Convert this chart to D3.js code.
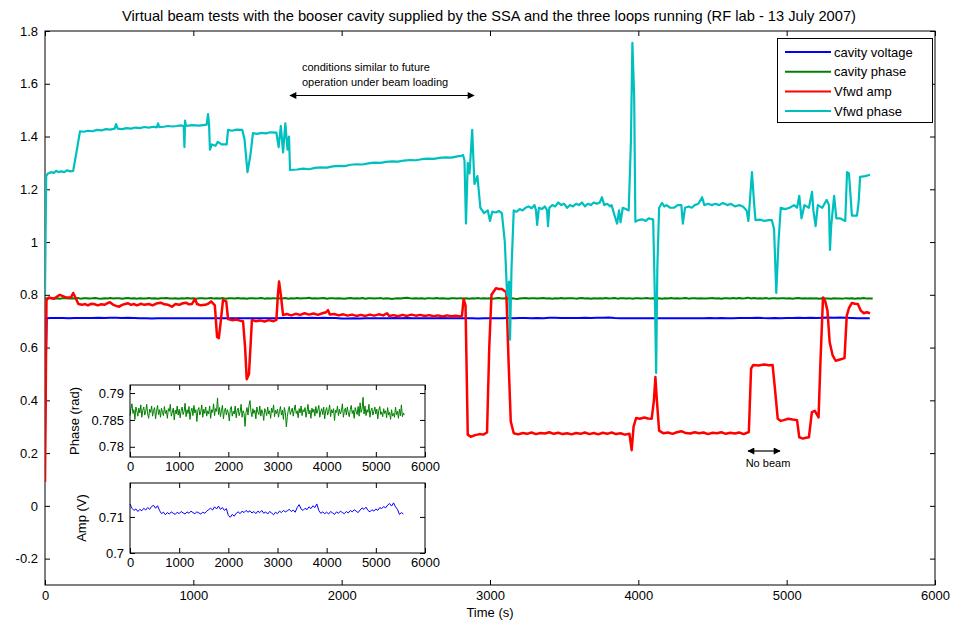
<!DOCTYPE html>
<html>
<head>
<meta charset="utf-8">
<script src="https://cdn.jsdelivr.net/npm/d3@7"></script>
<style>
  body { margin: 0; background: #fff; }
  text { font-family: "Liberation Sans", Arial, sans-serif; fill: #000; }
  .narrow { font-family: "Liberation Sans Narrow", "Arial Narrow", "Liberation Sans", sans-serif; }
</style>
</head>
<body>
<div id="chart"></div>
<script>
const width = 956;
const height = 623;

const titleText = "Virtual beam tests with the booser cavity supplied by the SSA and the three loops running (RF lab - 13 July 2007)";
const seriesNames = ["cavity voltage", "cavity phase", "Vfwd amp", "Vfwd phase"];
const seriesColors = ["#0000ff", "#008000", "#ff0000", "#00bfbf"];
const mainYTicks = [-0.2, 0, 0.2, 0.4, 0.6, 0.8, 1, 1.2, 1.4, 1.6, 1.8];
const timeTicks = [0, 1000, 2000, 3000, 4000, 5000, 6000];
const phaseTicks = [0.78, 0.785, 0.79];
const ampTicks = [0.7, 0.71];

// sample spacing (s) of the two cavity loggers
const phaseStep = 20;
const ampStep = 40;

// cavity phase (rad), one value every 20 s
const cavityPhase = [
  0.7858, 0.7871, 0.7880, 0.7862, 0.7869, 0.7851, 0.7874, 0.7866, 0.7857, 0.7872,
  0.7863, 0.7878, 0.7855, 0.7868, 0.7874, 0.7859, 0.7866, 0.7879, 0.7861, 0.7853,
  0.7870, 0.7864, 0.7876, 0.7857, 0.7868, 0.7873, 0.7852, 0.7866, 0.7877, 0.7860,
  0.7869, 0.7855, 0.7872, 0.7864, 0.7858, 0.7875, 0.7862, 0.7868, 0.7853, 0.7871,
  0.7866, 0.7879, 0.7857, 0.7864, 0.7872, 0.7850, 0.7868, 0.7861, 0.7876, 0.7859,
  0.7870, 0.7854, 0.7867, 0.7874, 0.7860, 0.7866, 0.7881, 0.7856, 0.7869, 0.7862,
  0.7875, 0.7851, 0.7866, 0.7872, 0.7858, 0.7877, 0.7863, 0.7869, 0.7847, 0.7868,
  0.7873, 0.7859, 0.7866, 0.7878, 0.7855, 0.7870, 0.7862, 0.7874, 0.7857, 0.7867,
  0.7861, 0.7876, 0.7853, 0.7869, 0.7864, 0.7880, 0.7858, 0.7871, 0.7866, 0.7891,
  0.7860, 0.7873, 0.7856, 0.7868, 0.7877, 0.7852, 0.7866, 0.7872, 0.7859, 0.7869,
  0.7863, 0.7848, 0.7870, 0.7875, 0.7857, 0.7866, 0.7861, 0.7876, 0.7854, 0.7868,
  0.7872, 0.7858, 0.7865, 0.7879, 0.7855, 0.7867, 0.7862, 0.7838, 0.7864, 0.7873,
  0.7859, 0.7877, 0.7886, 0.7866, 0.7856, 0.7871, 0.7862, 0.7868, 0.7852, 0.7874,
  0.7865, 0.7860, 0.7876, 0.7857, 0.7869, 0.7863, 0.7849, 0.7871, 0.7866, 0.7858,
  0.7874, 0.7861, 0.7867, 0.7853, 0.7872, 0.7864, 0.7878, 0.7856, 0.7868, 0.7862,
  0.7870, 0.7855, 0.7866, 0.7875, 0.7859, 0.7868, 0.7851, 0.7873, 0.7864, 0.7837,
  0.7856, 0.7869, 0.7875, 0.7860, 0.7866, 0.7872, 0.7857, 0.7868, 0.7878, 0.7862,
  0.7867, 0.7854, 0.7871, 0.7863, 0.7876, 0.7858, 0.7869, 0.7865, 0.7873, 0.7855,
  0.7866, 0.7879, 0.7861, 0.7868, 0.7853, 0.7872, 0.7864, 0.7870, 0.7857, 0.7875,
  0.7862, 0.7868, 0.7877, 0.7855, 0.7866, 0.7871, 0.7860, 0.7874, 0.7852, 0.7867,
  0.7873, 0.7859, 0.7866, 0.7878, 0.7856, 0.7869, 0.7863, 0.7871, 0.7849, 0.7868,
  0.7864, 0.7876, 0.7858, 0.7870, 0.7861, 0.7867, 0.7880, 0.7855, 0.7866, 0.7872,
  0.7859, 0.7874, 0.7863, 0.7856, 0.7869, 0.7877, 0.7862, 0.7868, 0.7853, 0.7873,
  0.7866, 0.7860, 0.7875, 0.7857, 0.7882, 0.7864, 0.7870, 0.7892, 0.7861, 0.7876,
  0.7858, 0.7869, 0.7864, 0.7879, 0.7855, 0.7867, 0.7872, 0.7859, 0.7866, 0.7874,
  0.7861, 0.7870, 0.7852, 0.7868, 0.7875, 0.7860, 0.7865, 0.7856, 0.7871, 0.7862,
  0.7867, 0.7854, 0.7873, 0.7859, 0.7864, 0.7851, 0.7869, 0.7857, 0.7862, 0.7855,
  0.7874, 0.7860, 0.7866, 0.7853, 0.7870, 0.7858, 0.7878, 0.7856, 0.7863, 0.7859
];

// cavity voltage amplitude (V), one value every 40 s
const cavityAmp = [
  0.7136, 0.7124, 0.7118, 0.7122, 0.7115, 0.7121, 0.7117, 0.7124, 0.7119, 0.7126,
  0.7121, 0.7129, 0.7132, 0.7124, 0.7131, 0.7118, 0.7109, 0.7113, 0.7106, 0.7112,
  0.7108, 0.7114, 0.7110, 0.7107, 0.7113, 0.7109, 0.7115, 0.7111, 0.7108, 0.7114,
  0.7110, 0.7116, 0.7112, 0.7109, 0.7114, 0.7111, 0.7108, 0.7113, 0.7110, 0.7116,
  0.7120, 0.7124, 0.7119, 0.7128, 0.7122, 0.7130, 0.7121, 0.7126, 0.7118, 0.7123,
  0.7104, 0.7099, 0.7107, 0.7102, 0.7110, 0.7114, 0.7109, 0.7116, 0.7112, 0.7118,
  0.7113, 0.7117, 0.7111, 0.7115, 0.7109, 0.7116, 0.7112, 0.7118, 0.7110, 0.7114,
  0.7108, 0.7115, 0.7111, 0.7106, 0.7113, 0.7109, 0.7116, 0.7112, 0.7118, 0.7114,
  0.7117, 0.7121, 0.7115, 0.7119, 0.7113, 0.7126, 0.7134, 0.7122, 0.7118, 0.7124,
  0.7120, 0.7128, 0.7123, 0.7131, 0.7126, 0.7136, 0.7118, 0.7110, 0.7114, 0.7109,
  0.7113, 0.7108, 0.7115, 0.7111, 0.7107, 0.7114, 0.7110, 0.7116, 0.7112, 0.7109,
  0.7115, 0.7111, 0.7118, 0.7114, 0.7120, 0.7116, 0.7112, 0.7119, 0.7125, 0.7121,
  0.7127, 0.7118, 0.7114, 0.7120, 0.7116, 0.7122, 0.7118, 0.7126, 0.7123, 0.7129,
  0.7125, 0.7133, 0.7137, 0.7130, 0.7139, 0.7128, 0.7121, 0.7107, 0.7112, 0.7108
];

// switch-on transient of the cavity voltage, [time s, V]
const voltStart = [[0, 0.25], [6, 0.56], [12, 0.711]];

// Vfwd amplitude, [time s, value]
const vfwdAmp = [
  [0,0.09],[10,0.78],[25,0.79],[60,0.785],[100,0.80],[140,0.79],[175,0.79],[190,0.807],[205,0.79],
  [225,0.765],[250,0.762],[270,0.765],[290,0.76],[310,0.766],[330,0.765],[355,0.76],[380,0.764],
  [400,0.762],[420,0.768],[438,0.772],[460,0.762],[480,0.758],[500,0.755],[520,0.762],[540,0.765],
  [560,0.768],[580,0.762],[600,0.765],[620,0.76],[645,0.766],[670,0.762],[700,0.765],[725,0.76],
  [750,0.767],[780,0.77],[805,0.764],[830,0.762],[856,0.755],[880,0.765],[905,0.762],[930,0.768],
  [950,0.77],[970,0.764],[990,0.765],[1011,0.784],[1025,0.765],[1050,0.76],[1080,0.762],
  [1100,0.766],[1120,0.775],[1145,0.76],[1160,0.64],[1172,0.636],[1185,0.70],[1200,0.78],
  [1222,0.775],[1234,0.708],[1260,0.704],[1290,0.706],[1315,0.702],[1335,0.70],[1349,0.60],
  [1360,0.48],[1375,0.50],[1385,0.60],[1395,0.705],[1420,0.70],[1450,0.703],[1480,0.699],
  [1510,0.704],[1540,0.70],[1560,0.705],[1570,0.80],[1578,0.85],[1590,0.80],
  [1605,0.723],[1630,0.727],[1660,0.722],[1690,0.728],[1720,0.724],[1750,0.73],[1780,0.725],
  [1810,0.729],[1840,0.724],[1870,0.73],[1895,0.734],[1908,0.742],[1920,0.725],[1950,0.727],
  [1980,0.722],[2010,0.726],[2040,0.721],[2070,0.725],[2100,0.72],[2130,0.724],[2160,0.72],
  [2190,0.725],[2220,0.721],[2250,0.726],[2280,0.722],[2306,0.73],[2320,0.72],[2350,0.723],
  [2380,0.719],[2410,0.724],[2440,0.72],[2470,0.725],[2500,0.721],[2530,0.724],[2560,0.72],
  [2590,0.723],[2620,0.719],[2650,0.722],[2680,0.718],[2710,0.722],[2740,0.719],[2770,0.721],
  [2800,0.718],[2811,0.72],[2822,0.784],[2835,0.76],[2850,0.27],[2870,0.262],[2900,0.268],
  [2930,0.272],[2955,0.27],[2980,0.278],[2995,0.60],[3010,0.80],[3040,0.825],[3060,0.822],
  [3080,0.822],[3110,0.81],[3125,0.55],[3140,0.32],
  [3160,0.275],[3190,0.271],[3220,0.276],[3250,0.273],[3280,0.278],[3310,0.272],[3340,0.276],
  [3370,0.274],[3400,0.279],[3430,0.273],[3460,0.277],[3490,0.272],[3520,0.275],[3550,0.271],
  [3580,0.276],[3610,0.273],[3640,0.278],[3670,0.272],[3700,0.276],[3730,0.271],[3760,0.277],
  [3790,0.273],[3820,0.278],[3850,0.272],[3880,0.275],[3910,0.27],[3940,0.273],
  [3955,0.211],[3968,0.30],[3985,0.333],[4010,0.33],[4040,0.335],[4065,0.331],[4090,0.33],
  [4105,0.40],[4115,0.488],[4125,0.40],[4140,0.285],
  [4170,0.275],[4200,0.278],[4230,0.273],[4260,0.279],[4290,0.283],[4320,0.276],[4350,0.274],
  [4380,0.279],[4410,0.275],[4440,0.278],[4470,0.272],[4500,0.277],[4530,0.275],[4560,0.279],
  [4590,0.273],[4620,0.277],[4650,0.274],[4680,0.278],[4710,0.272],[4745,0.28],
  [4760,0.52],[4775,0.534],[4810,0.532],[4850,0.536],[4880,0.533],[4905,0.534],[4920,0.45],
  [4940,0.33],[4960,0.322],[4980,0.325],[5010,0.33],[5040,0.327],[5070,0.325],[5085,0.26],
  [5110,0.255],[5130,0.258],[5150,0.26],[5170,0.355],[5190,0.36],[5215,0.335],[5228,0.55],
  [5245,0.79],[5260,0.775],[5275,0.74],[5290,0.62],[5310,0.57],[5330,0.55],[5360,0.555],
  [5390,0.56],[5405,0.72],[5420,0.75],[5440,0.769],[5460,0.766],[5480,0.765],[5500,0.74],
  [5520,0.73],[5540,0.734],[5562,0.73]
];

// Vfwd phase, [time s, value]
const vfwdPhase = [
  [0,0.80],[8,1.25],[20,1.26],[40,1.265],[60,1.262],[75,1.27],[90,1.265],[110,1.268],[130,1.265],
  [150,1.272],[170,1.268],[190,1.27],[215,1.35],
  [236,1.42],[260,1.418],[290,1.422],[320,1.42],[350,1.425],[380,1.423],[410,1.428],[440,1.426],
  [470,1.43],[479,1.447],[490,1.43],[520,1.428],[550,1.432],[580,1.43],[610,1.434],[640,1.432],
  [670,1.436],[700,1.434],[730,1.437],[755,1.435],[762,1.45],[770,1.436],[800,1.437],[830,1.44],
  [860,1.438],[890,1.44],[915,1.442],[935,1.44],[940,1.36],[944,1.46],[950,1.44],[990,1.443],
  [1040,1.441],[1090,1.445],[1099,1.485],[1106,1.445],[1112,1.35],[1125,1.37],[1150,1.365],
  [1165,1.38],[1190,1.37],[1225,1.37],[1234,1.425],[1260,1.422],[1290,1.426],[1330,1.425],
  [1345,1.39],[1365,1.265],[1385,1.33],[1402,1.413],[1430,1.41],[1460,1.414],[1490,1.412],
  [1520,1.416],[1560,1.415],[1575,1.36],[1590,1.44],[1605,1.34],[1620,1.45],[1635,1.35],
  [1645,1.40],
  [1652,1.273],[1700,1.275],[1740,1.278],[1780,1.276],[1820,1.281],[1860,1.283],[1900,1.282],
  [1940,1.287],[1980,1.289],[2020,1.288],[2060,1.293],[2100,1.295],[2140,1.294],[2180,1.298],
  [2220,1.301],[2260,1.300],[2300,1.304],[2340,1.306],[2380,1.305],[2420,1.309],[2460,1.311],
  [2500,1.31],[2540,1.314],[2580,1.316],[2620,1.315],[2660,1.319],[2700,1.321],[2740,1.32],
  [2780,1.325],[2810,1.327],[2818,1.33],[2828,1.31],[2838,1.07],[2850,1.30],[2862,1.26],
  [2880,1.425],[2895,1.22],[2915,1.25],[2935,1.13],[2960,1.11],[2985,1.12],[3000,1.08],
  [3015,1.115],[3040,1.112],[3060,1.118],[3080,1.11],[3100,1.0],[3115,0.80],[3128,0.85],
  [3135,0.63],[3145,0.90],
  [3160,1.12],[3180,1.115],[3200,1.125],[3220,1.12],[3240,1.13],[3260,1.135],[3280,1.128],
  [3300,1.14],[3310,1.12],[3318,1.065],[3330,1.13],[3350,1.125],[3370,1.135],[3385,1.12],
  [3391,1.06],[3400,1.13],[3420,1.14],[3440,1.135],[3460,1.15],[3480,1.14],[3500,1.145],
  [3520,1.13],[3540,1.14],[3560,1.135],[3580,1.145],[3600,1.14],[3620,1.15],[3640,1.135],
  [3660,1.145],[3680,1.14],[3700,1.15],[3720,1.145],[3740,1.15],[3755,1.17],[3770,1.14],
  [3790,1.145],[3810,1.135],[3820,1.14],[3840,1.10],[3857,1.07],[3870,1.12],[3880,1.075],
  [3895,1.13],[3915,1.125],[3935,1.12],
  [3950,1.38],[3960,1.755],[3972,1.55],[3980,1.077],[4000,1.083],[4025,1.086],[4050,1.08],
  [4070,1.09],[4100,1.085],[4113,0.75],[4120,0.504],[4128,0.90],
  [4140,1.13],[4160,1.148],[4175,1.135],[4190,1.14],[4215,1.13],[4240,1.13],[4265,1.14],
  [4290,1.14],[4300,1.07],[4315,1.13],[4340,1.135],[4360,1.13],[4380,1.14],[4405,1.145],
  [4430,1.17],[4445,1.14],[4470,1.145],[4495,1.14],[4520,1.145],[4545,1.14],[4570,1.148],
  [4600,1.14],[4625,1.145],[4650,1.135],[4680,1.14],[4705,1.135],[4730,1.12],
  [4742,1.08],[4750,1.14],[4766,1.265],[4780,1.15],
  [4790,1.083],[4820,1.085],[4850,1.08],[4880,1.083],[4900,1.083],[4915,1.05],[4930,0.807],
  [4945,1.00],[4960,1.13],[4990,1.125],[5020,1.13],[5050,1.14],[5070,1.13],[5085,1.175],
  [5100,1.09],[5120,1.14],[5150,1.13],[5171,1.19],[5180,1.12],[5195,1.06],[5210,1.14],
  [5240,1.13],[5270,1.16],[5285,1.14],[5292,0.97],[5300,1.06],[5320,1.175],[5335,1.09],
  [5360,1.09],[5395,1.08],[5407,1.265],[5420,1.26],[5440,1.10],[5474,1.10],[5485,1.15],
  [5495,1.247],[5530,1.25],[5562,1.255]
];

const phaseSeries = cavityPhase.map((v, i) => [i * phaseStep, v]);
const ampSeries = cavityAmp.map((v, i) => [i * ampStep, v]);
const voltMain = voltStart.concat(ampSeries.filter(d => d[0] > 12));

const svg = d3.select("#chart").append("svg")
  .attr("width", width)
  .attr("height", height)
  .style("display", "block");

svg.append("rect").attr("width", width).attr("height", height).attr("fill", "#fff");

const defs = svg.append("defs");
defs.append("marker")
  .attr("id", "arrow")
  .attr("viewBox", "0 0 10 10")
  .attr("refX", 9).attr("refY", 5)
  .attr("markerWidth", 9).attr("markerHeight", 7)
  .attr("markerUnits", "userSpaceOnUse")
  .attr("orient", "auto-start-reverse")
  .append("path").attr("d", "M0,0 L10,5 L0,10 z").attr("fill", "#000");

// ---------- main axes ----------
const m = { left: 45, right: 935, top: 31, bottom: 585 };
const x = d3.scaleLinear().domain([0, 6000]).range([m.left, m.right]);
const y = d3.scaleLinear().domain([-0.3, 1.8]).range([m.bottom, m.top]);

defs.append("clipPath").attr("id", "mainClip")
  .append("rect").attr("x", m.left).attr("y", m.top)
  .attr("width", m.right - m.left).attr("height", m.bottom - m.top);

function boxAxes(g, xs, ys, xt, yt, opts) {
  const [x0, x1] = xs.range();
  const [y1, y0] = ys.range();
  const tick = 5;
  g.append("g").attr("transform", `translate(0,${y1})`)
    .call(d3.axisBottom(xs).tickValues(xt).tickSize(-tick).tickPadding(opts.xPad)
      .tickFormat(d => String(d)))
    .call(a => a.select(".domain").remove())
    .call(a => a.selectAll("text").attr("class", opts.xClass || null)
      .style("font-size", opts.fontSize + "px"));
  g.append("g").attr("transform", `translate(0,${y0})`)
    .call(d3.axisTop(xs).tickValues(xt).tickSize(-tick).tickFormat(""))
    .call(a => a.select(".domain").remove());
  g.append("g").attr("transform", `translate(${x0},0)`)
    .call(d3.axisLeft(ys).tickValues(yt).tickSize(-tick).tickPadding(opts.yPad)
      .tickFormat(d => String(+d.toFixed(3))))
    .call(a => a.select(".domain").remove())
    .call(a => a.selectAll("text").style("font-size", opts.fontSize + "px"));
  g.append("g").attr("transform", `translate(${x1},0)`)
    .call(d3.axisRight(ys).tickValues(yt).tickSize(-tick).tickFormat(""))
    .call(a => a.select(".domain").remove());
  g.selectAll(".tick line").attr("stroke", "#000");
  g.selectAll(".tick text").attr("fill", "#000").style("font-family", null);
  g.append("rect").attr("x", x0).attr("y", y0)
    .attr("width", x1 - x0).attr("height", y1 - y0)
    .attr("fill", "none").attr("stroke", "#000").attr("stroke-width", 1);
}

boxAxes(svg.append("g"), x, y, timeTicks, mainYTicks,
  { xPad: 6, yPad: 7, fontSize: 13, xClass: "narrow" });

const line = d3.line().x(d => x(d[0])).y(d => y(d[1]));
const traces = svg.append("g").attr("clip-path", "url(#mainClip)").attr("fill", "none")
  .attr("stroke-linejoin", "round");
const mainData = [voltMain, phaseSeries, vfwdAmp, vfwdPhase];
const widths = [2, 2, 2.5, 2.2];
mainData.forEach((data, i) => {
  traces.append("path").datum(data)
    .attr("d", line)
    .attr("stroke", seriesColors[i])
    .attr("stroke-width", widths[i]);
});

// title and x label
svg.append("text").attr("class", "narrow")
  .attr("x", 489).attr("y", 21)
  .attr("text-anchor", "middle")
  .attr("textLength", 734)
  .attr("lengthAdjust", "spacingAndGlyphs")
  .style("font-size", "14.5px")
  .text(titleText);

svg.append("text").attr("class", "narrow")
  .attr("x", 490).attr("y", 617)
  .attr("text-anchor", "middle")
  .style("font-size", "13px")
  .text("Time (s)");

// legend
const legend = svg.append("g");
legend.append("rect").attr("x", 777.5).attr("y", 38.5).attr("width", 155).attr("height", 84)
  .attr("fill", "#fff").attr("stroke", "#000");
seriesNames.forEach((name, i) => {
  const ly = 52 + i * 19.7;
  legend.append("line").attr("x1", 785).attr("x2", 831).attr("y1", ly).attr("y2", ly)
    .attr("stroke", seriesColors[i]).attr("stroke-width", 2);
  legend.append("text").attr("x", 834).attr("y", ly + 4.5)
    .style("font-size", "13px").text(name);
});

// annotations
const note = svg.append("g");
note.append("text").attr("x", 302).attr("y", 71).style("font-size", "11px")
  .text("conditions similar to future");
note.append("text").attr("x", 302).attr("y", 86).style("font-size", "11px")
  .text("operation under beam loading");
note.append("line").attr("x1", 290).attr("x2", 474).attr("y1", 95.5).attr("y2", 95.5)
  .attr("stroke", "#000").attr("stroke-width", 1.2)
  .attr("marker-start", "url(#arrow)").attr("marker-end", "url(#arrow)");

note.append("line").attr("x1", 748).attr("x2", 780).attr("y1", 451).attr("y2", 451)
  .attr("stroke", "#000").attr("stroke-width", 1.2)
  .attr("marker-start", "url(#arrow)").attr("marker-end", "url(#arrow)");
note.append("text").attr("x", 768).attr("y", 467).attr("text-anchor", "middle")
  .style("font-size", "11px").text("No beam");

// ---------- insets ----------
function inset(top, bottom, domain, ticks, data, color, label, labelX) {
  const xs = d3.scaleLinear().domain([0, 6000]).range([130, 425]);
  const ys = d3.scaleLinear().domain(domain).range([bottom, top]);
  const g = svg.append("g");
  g.append("rect").attr("x", 130).attr("y", top).attr("width", 295).attr("height", bottom - top)
    .attr("fill", "#fff");
  g.append("path").datum(data)
    .attr("d", d3.line().x(d => xs(d[0])).y(d => ys(d[1])))
    .attr("fill", "none").attr("stroke", color).attr("stroke-width", 1);
  boxAxes(g, xs, ys, timeTicks, ticks, { xPad: 5, yPad: 6, fontSize: 13 });
  g.append("text")
    .attr("transform", `translate(${labelX},${(top + bottom) / 2}) rotate(-90)`)
    .attr("text-anchor", "middle")
    .style("font-size", "13px")
    .text(label);
}

inset(385, 457, [0.7781, 0.7915], phaseTicks, phaseSeries, seriesColors[1], "Phase (rad)", 79);
inset(483, 553, [0.7, 0.7194], ampTicks, ampSeries, seriesColors[0], "Amp (V)", 86);
</script>
</body>
</html>
